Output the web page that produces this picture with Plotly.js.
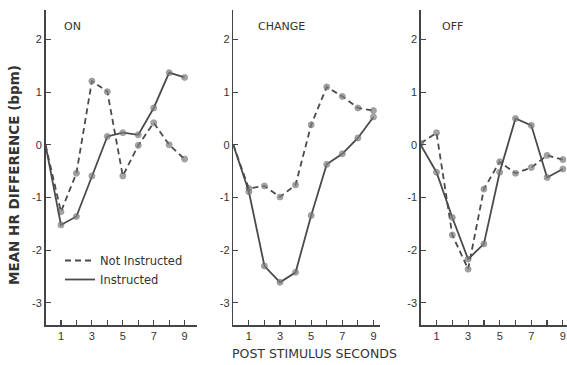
<!DOCTYPE html>
<html>
<head>
<meta charset="utf-8">
<script src="https://cdn.plot.ly/plotly-3.0.1.min.js"></script>
<style>html,body{margin:0;padding:0;background:#fff;}#chart{width:567px;height:365px;}</style>
</head>
<body>
<div id="chart"></div>
<script>
// Post-stimulus seconds
const seconds = [0, 1, 2, 3, 4, 5, 6, 7, 8, 9];
// ON panel
const onNotInstructed = [0, -1.27, -0.54, 1.21, 1.01, -0.59, -0.01, 0.42, 0.0, -0.27];
const onInstructed    = [0, -1.52, -1.36, -0.59, 0.16, 0.23, 0.19, 0.70, 1.37, 1.28];
// CHANGE panel
const changeNotInstructed = [0, -0.83, -0.78, -0.99, -0.76, 0.38, 1.10, 0.92, 0.70, 0.65];
const changeInstructed    = [0, -0.89, -2.30, -2.61, -2.42, -1.34, -0.37, -0.17, 0.13, 0.53];
// OFF panel
const offNotInstructed = [0.03, 0.23, -1.71, -2.36, -0.84, -0.32, -0.54, -0.43, -0.20, -0.28];
const offInstructed    = [0, -0.52, -1.38, -2.17, -1.88, -0.52, 0.50, 0.37, -0.62, -0.46];

const panelTitles = ["ON", "CHANGE", "OFF"];
const yTickVals = [2, 1, 0, -1, -2, -3];
const yTickText = ["2", "1", "0", "-1", "-2", "-3"];
const xTickVals = [1, 2, 3, 4, 5, 6, 7, 8, 9];
const xTickText = ["1", "", "3", "", "5", "", "7", "", "9"];

const lineColor = "#4a4a4a";
const markerColor = "#808080";
const FONT = "Liberation Sans, Arial, sans-serif";
const TFONT = "DejaVu Sans, sans-serif";

function mk(y, xa, ya, dashed, firstMarker) {
  return {
    x: seconds, y: y, xaxis: xa, yaxis: ya, type: "scatter", mode: "lines+markers",
    showlegend: false, hoverinfo: "skip",
    line: {color: lineColor, width: 1.8, dash: dashed ? "6px,4px" : "solid"},
    marker: {color: markerColor, size: seconds.map((s, k) => (k === 0 && !firstMarker) ? 0 : 6),
             line: {color: "#666", width: 0.8}}
  };
}

const data = [
  mk(onNotInstructed, "x", "y", true, false),
  mk(onInstructed, "x", "y", false, false),
  mk(changeNotInstructed, "x2", "y2", true, false),
  mk(changeInstructed, "x2", "y2", false, false),
  mk(offNotInstructed, "x3", "y3", true, true),
  mk(offInstructed, "x3", "y3", false, false),
  {x: [null], y: [null], xaxis: "x", yaxis: "y", type: "scatter", mode: "lines", name: "Not Instructed",
   line: {color: lineColor, width: 1.8, dash: "6px,4px"}, hoverinfo: "skip"},
  {x: [null], y: [null], xaxis: "x", yaxis: "y", type: "scatter", mode: "lines", name: "Instructed",
   line: {color: lineColor, width: 1.8}, hoverinfo: "skip"}
];

const W = 567, H = 365;
const xDomainsPx = [[45.5, 197], [233.3, 380], [420.7, 567]];
const xRanges = [[0, 9.8], [0, 9.42], [0, 9.26]];
const yDomain = [1 - 325 / H, 1 - 10 / H];

function xaxis(i) {
  return {
    domain: [xDomainsPx[i][0] / W, xDomainsPx[i][1] / W],
    range: xRanges[i], showgrid: false, zeroline: false,
    showline: true, linecolor: "#444", linewidth: 1.5,
    ticks: "inside", ticklen: 5, tickwidth: 1.2, tickcolor: "#444",
    tickvals: xTickVals, ticktext: xTickText,
    tickfont: {family: FONT, size: 11, color: "#333"},
    anchor: i === 0 ? "y" : "y" + (i + 1), fixedrange: true
  };
}
function yaxis(i) {
  return {
    domain: yDomain, range: [-3.42, 2.56], showgrid: false, zeroline: false,
    showline: true, linecolor: "#444", linewidth: 1.5,
    ticks: "inside", ticklen: 5, tickwidth: 1.2, tickcolor: "#444",
    tickvals: yTickVals, ticktext: yTickText,
    tickfont: {family: FONT, size: 11, color: "#333"},
    anchor: i === 0 ? "x" : "x" + (i + 1), fixedrange: true
  };
}

const titleX = [72, 281, 452];
const annotations = panelTitles.map((t, i) => ({
  text: t, xref: "paper", yref: "paper", x: titleX[i] / W, y: 1 - 26 / H,
  xanchor: "center", yanchor: "middle", showarrow: false,
  font: {family: TFONT, size: 11, color: "#333"}
}));
annotations.push({
  text: "MEAN HR DIFFERENCE (bpm)", xref: "paper", yref: "paper", x: 14 / W, y: 1 - 175 / H,
  xanchor: "center", yanchor: "middle", textangle: -90, showarrow: false,
  font: {family: TFONT, size: 13.5, color: "#333", weight: "bold"}
});
annotations.push({
  text: "POST STIMULUS SECONDS", xref: "paper", yref: "paper", x: 314 / W, y: 1 - 353 / H,
  xanchor: "center", yanchor: "middle", showarrow: false,
  font: {family: TFONT, size: 12.5, color: "#333"}
});

const layout = {
  width: W, height: H,
  margin: {l: 0, r: 0, t: 0, b: 0},
  paper_bgcolor: "#fff", plot_bgcolor: "#fff",
  xaxis: xaxis(0), yaxis: yaxis(0),
  xaxis2: xaxis(1), yaxis2: yaxis(1),
  xaxis3: xaxis(2), yaxis3: yaxis(2),
  annotations: annotations,
  showlegend: true,
  legend: {x: 60 / W, y: 1 - 246 / H, xanchor: "left", yanchor: "top",
           bgcolor: "rgba(0,0,0,0)", font: {family: TFONT, size: 11.5, color: "#333"},
           itemwidth: 30, tracegroupgap: 0},
  font: {family: FONT}
};

Plotly.newPlot("chart", data, layout, {staticPlot: true, displayModeBar: false});
</script>
</body>
</html>
